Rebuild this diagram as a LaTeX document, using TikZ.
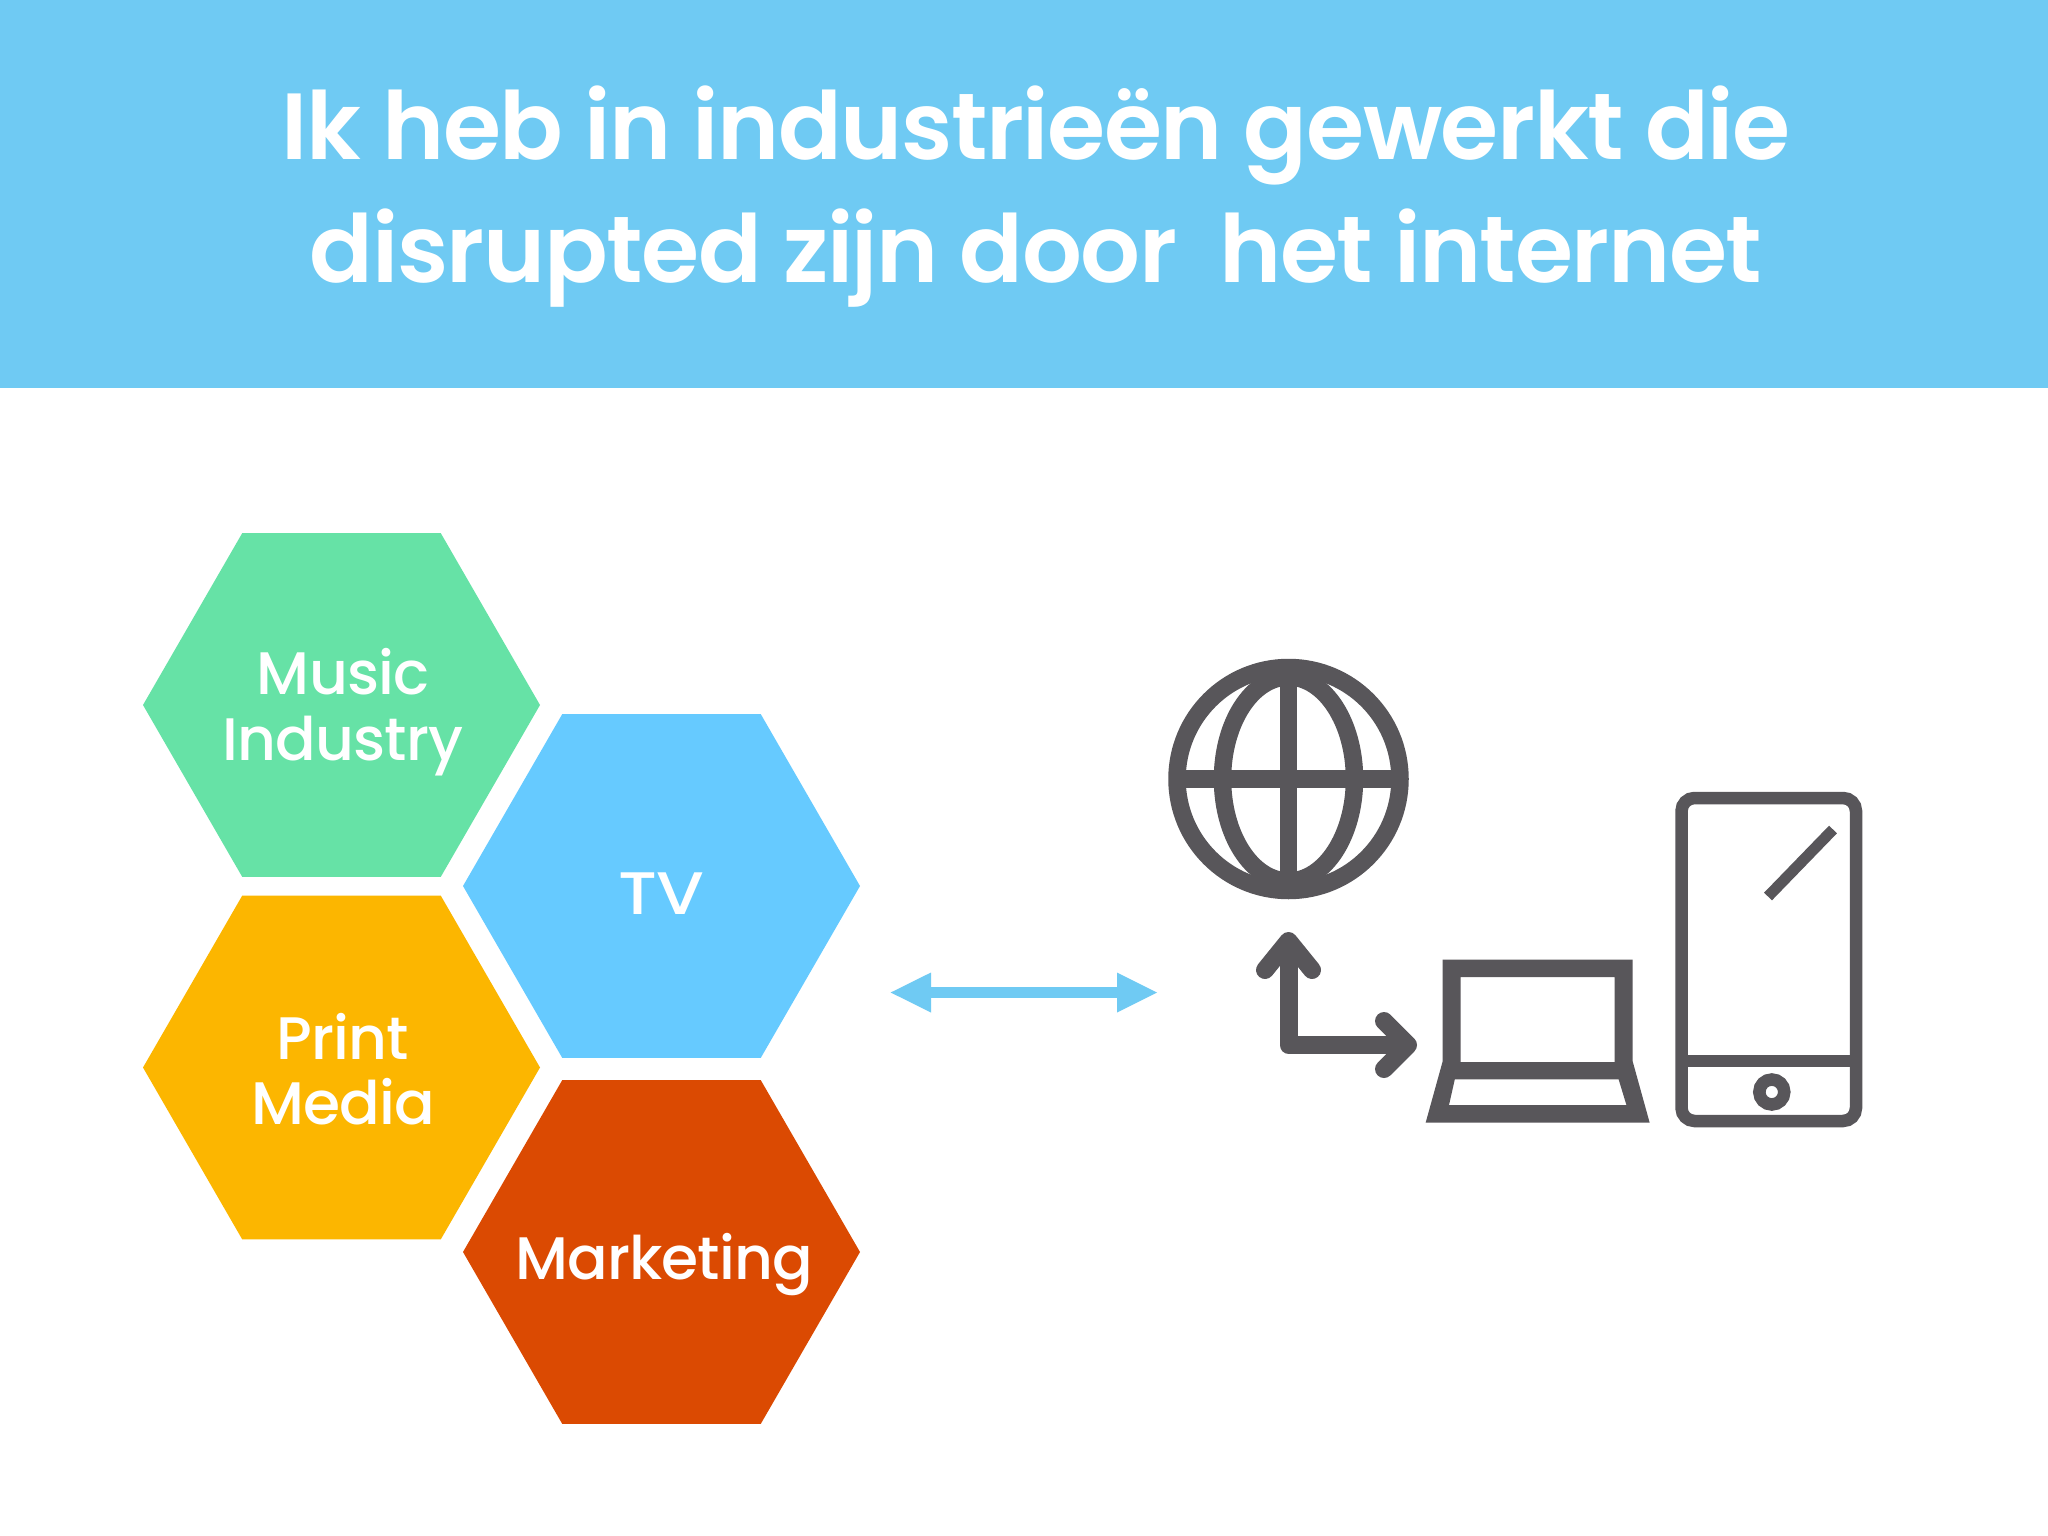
\documentclass[tikz,border=0pt]{standalone}
\usepackage{fontspec}
\setmainfont{Poppins}
\newfontfamily\titlefont[LetterSpace=-1.45]{Poppins SemiBold}
\newfontfamily\labelfont[LetterSpace=-1.5]{Poppins Medium}
\usetikzlibrary{shapes.geometric}
\definecolor{banner}{HTML}{6FCAF3}
\definecolor{hexgreen}{HTML}{66E2A6}
\definecolor{hexblue}{HTML}{66CAFF}
\definecolor{hexyellow}{HTML}{FCB600}
\definecolor{hexred}{HTML}{DB4A02}
\definecolor{icon}{HTML}{58565A}
\tikzset{
  hexnode/.style={regular polygon,regular polygon sides=6,minimum size=397pt,inner sep=0pt,outer sep=0pt,draw=none},
  titletext/.style={anchor=base,text=white,inner sep=0pt,font=\titlefont\fontsize{94}{94}\selectfont},
  hextext/.style={anchor=base,text=white,inner sep=0pt,font=\labelfont\fontsize{60}{60}\selectfont},
  iconline/.style={draw=icon,line width=17.5pt},
  arrowline/.style={draw=icon,line width=18pt},
  phoneline/.style={draw=icon,line width=12.5pt},
  iconfill/.style={fill=icon,draw=none},
}
\begin{document}
\begin{tikzpicture}[x=1pt,y=-1pt]
\useasboundingbox (0,0) rectangle (2048,1536);
\fill[white] (0,0) rectangle (2048,1536);
\fill[banner] (0,0) rectangle (2048,388);
\node[titletext] (t1) at (1036,160) {Ik heb in industrieën gewerkt die};
\node[titletext] (t2) at (1036,282) {disrupted zijn door\ \ het internet};
\node[hexnode,fill=hexgreen] (music) at (341.5,705) {};
\node[hexnode,fill=hexyellow] (print) at (341.5,1067.5) {};
\node[hexnode,fill=hexblue] (tv) at (661.5,886) {};
\node[hexnode,fill=hexred] (mkt) at (661.5,1252) {};
\node[hextext] (l1) at (343,694) {Music};
\node[hextext] (l2) at (343,760) {Industry};
\node[hextext] (l3) at (343,1059) {Print};
\node[hextext] (l4) at (343,1124) {Media};
\node[hextext] (l5) at (661,914) {\scalebox{1.15}[1]{TV}};
\node[hextext] (l6) at (664,1279) {Marketing};
% blue double arrow
\coordinate (al) at (890.7,992.5);
\coordinate (ar) at (1157,992.5);
\draw[banner,line width=10.5pt] ([xshift=30pt]al) -- ([xshift=-30pt]ar);
\fill[banner] (al) -- ++(40.3,-20) -- ++(0,40) -- cycle;
\fill[banner] (ar) -- ++(-40,-20) -- ++(0,40) -- cycle;
% globe
\coordinate (g) at (1288.5,779);
\begin{scope}
\clip (g) circle (115);
\draw[iconline] (g) ellipse (66 and 102);
\draw[iconline] (1288.5,660) -- (1288.5,898);
\draw[iconline] (1170,779) -- (1408,779);
\end{scope}
\draw[iconline] (g) circle (111.5);
% arrow
\coordinate (ga) at (1288.5,941);
\coordinate (gc) at (1288.5,1045);
\coordinate (gb) at (1408,1045);
\draw[arrowline,line join=round] (ga) -- (gc) -- (gb);
\draw[arrowline,line cap=round,line join=round] (1265,970) -- (ga) -- (1312,970);
\draw[arrowline,line cap=round,line join=round] (1384,1021) -- (gb) -- (1384,1069);
% laptop
\fill[iconfill,even odd rule] (1442.6,959.5) -- (1632.7,959.5) -- (1632.7,1061.5) -- (1649.6,1122.5) -- (1425.7,1122.5) -- (1442.6,1061.5) -- cycle
 (1460.6,977) rectangle (1614.7,1062)
 (1454.8,1079.3) -- (1618.6,1079.3) -- (1626.4,1105) -- (1449,1105) -- cycle;
% phone
\draw[phoneline,rounded corners=13pt] (1681.5,798) rectangle (1856,1121);
\draw[phoneline] (1681.5,1061) -- (1856,1061);
\draw[phoneline] (1771.8,1092) circle (12.5);
\draw[draw=icon,line width=11pt] (1768,896.5) -- (1833,829.5);
\end{tikzpicture}
\end{document}
